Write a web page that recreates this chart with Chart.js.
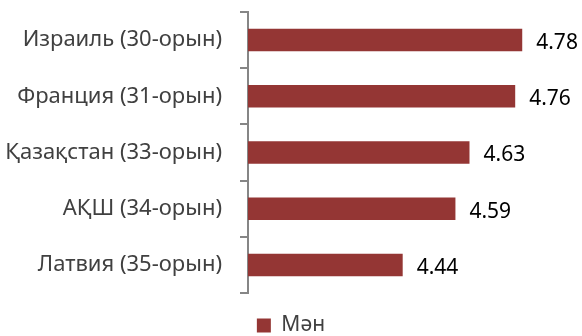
<!DOCTYPE html>
<html>
<head>
<meta charset="utf-8">
<script src="https://cdn.jsdelivr.net/npm/chart.js@4/dist/chart.umd.min.js"></script>
<style>
  html, body { margin: 0; padding: 0; background: #fff; }
  #wrap { width: 582px; height: 336px; }
</style>
</head>
<body>
<div id="wrap"><canvas id="bar_chart"></canvas></div>
<script>
var labels = ['Израиль (30-орын)', 'Франция (31-орын)', 'Қазақстан (33-орын)', 'АҚШ (34-орын)', 'Латвия (35-орын)'];
var values = [4.78, 4.76, 4.63, 4.59, 4.44];
var seriesName = 'Мән';

// подписи значений справа от столбиков
var valueLabels = {
    id: 'valueLabels',
    afterDatasetsDraw: function(chart) {
        var ctx = chart.ctx;
        var meta = chart.getDatasetMeta(0);
        ctx.save();
        ctx.font = '21px "Noto Sans"';
        ctx.fillStyle = '#000';
        ctx.textAlign = 'left';
        ctx.textBaseline = 'middle';
        meta.data.forEach(function(bar, i) {
            ctx.fillText(values[i].toFixed(2), bar.x + 14, bar.y + 3);
        });
        ctx.restore();
    }
};

new Chart(document.getElementById('bar_chart').getContext('2d'), {
    type: 'bar',
    data: {
        labels: labels,
        datasets: [{
            label: seriesName,
            data: values,
            backgroundColor: '#943634',
            categoryPercentage: 1,
            barPercentage: 0.4
        }]
    },
    options: {
        indexAxis: 'y',
        responsive: true,
        maintainAspectRatio: false,
        animation: false,
        layout: { padding: { top: 12, right: 0, bottom: -10, left: 0 } },
        scales: {
            x: { display: false, min: 4.0, max: 4.95 },
            y: {
                afterFit: function(scale) {
                    scale.width = 248;
                    scale.paddingTop = 0;
                    scale.paddingBottom = 0;
                },
                border: { display: true, color: '#868686', width: 2 },
                grid: { offset: true, drawOnChartArea: false, tickLength: 8, color: '#868686', lineWidth: 2 },
                ticks: { padding: 18, color: '#404040', font: { family: 'Noto Sans', size: 22 } }
            }
        },
        plugins: {
            tooltip: { enabled: false },
            legend: {
                position: 'bottom',
                labels: {
                    boxWidth: 14, boxHeight: 14,
                    padding: 22,
                    color: '#404040',
                    font: { family: 'Noto Sans', size: 21 }
                }
            }
        }
    },
    plugins: [valueLabels]
});
</script>
</body>
</html>
